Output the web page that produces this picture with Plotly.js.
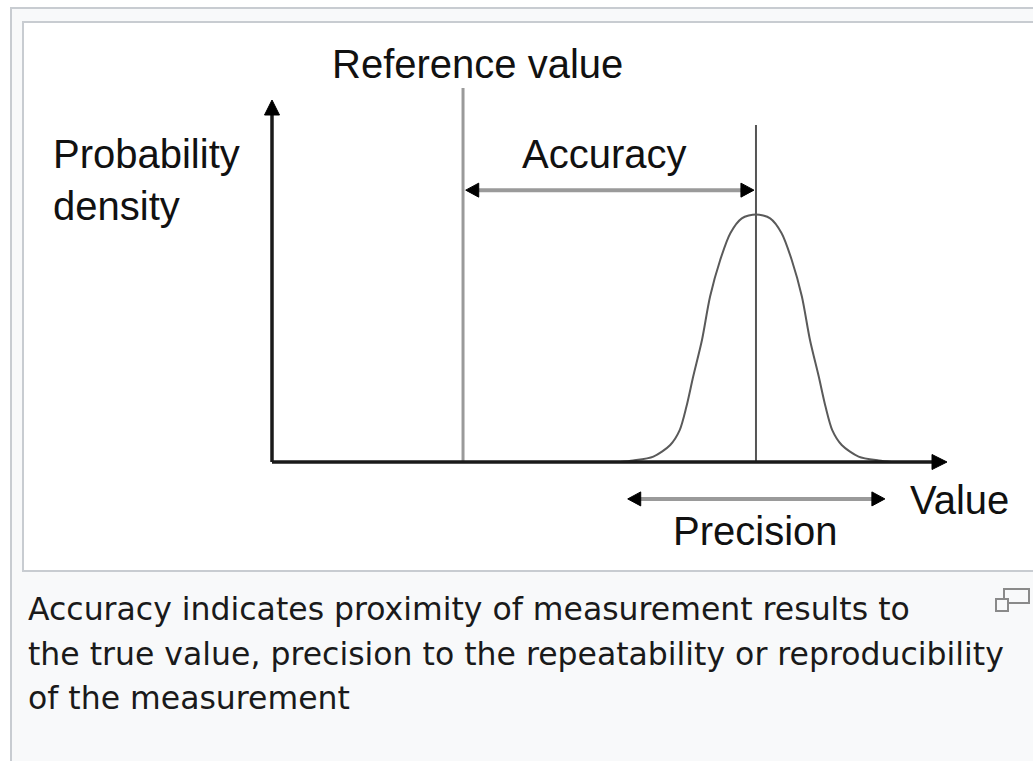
<!DOCTYPE html>
<html>
<head>
<meta charset="utf-8">
<script src="https://cdn.plot.ly/plotly-3.0.1.min.js"></script>
<style>
html,body{margin:0;padding:0;background:#ffffff;}
#chart{width:1033px;height:761px;}
</style>
</head>
<body>
<div id="chart"></div>
<script>
// ---------- data (value units, density units) ----------
const valueAxisMax = 100;
const densityAxisMax = 100;
const referenceValue = 28.3;
const referenceLineTop = 103.3;
const measuredMean = 71.7;
const meanLineTop = 93.1;
const accuracyLevel = 75.1;
const precisionLevel = -10.2;
const precisionRange = [52.7, 90.8];
const curveX = [51.6, 53.5, 56.5, 59.0, 60.4, 61.4, 62.4, 63.7, 64.9, 66.4, 67.9, 69.6, 71.7,
                73.8, 75.5, 77.0, 78.5, 79.7, 81.0, 82.0, 83.0, 84.4, 86.9, 89.9, 91.8];
const curveY = [0, 0.4, 1.5, 4.7, 8.8, 15.3, 23.6, 33.7, 45.7, 55.8, 63.2, 67.3, 68.4,
                67.3, 63.2, 55.8, 45.7, 33.7, 23.6, 15.3, 8.8, 4.7, 1.5, 0.4, 0];
const labels = {
  reference: 'Reference value',
  yTitle: 'Probability<br>density',
  accuracy: 'Accuracy',
  xTitle: 'Value',
  precision: 'Precision',
  caption: ['Accuracy indicates proximity of measurement results to',
            'the true value, precision to the repeatability or reproducibility',
            'of the measurement']
};

// ---------- layout geometry ----------
const W = 1033, H = 761;
const ORIGIN_X = 272, ORIGIN_Y = 462;
const PXX = 6.75, PXY = 3.62;
const xRange = [-ORIGIN_X / PXX, (W - ORIGIN_X) / PXX];
const yRange = [-(H - ORIGIN_Y) / PXY, ORIGIN_Y / PXY];
const px = x => x / W;
const py = y => 1 - y / H;

function head(tx, ty, dir, len, half) {
  const lx = len / PXX, ly = len / PXY, hx = half / PXX, hy = half / PXY;
  if (dir === 'right') return {x: [tx, tx - lx, tx - lx, tx], y: [ty, ty + hy, ty - hy, ty]};
  if (dir === 'left') return {x: [tx, tx + lx, tx + lx, tx], y: [ty, ty + hy, ty - hy, ty]};
  return {x: [tx, tx - hx, tx + hx, tx], y: [ty, ty - ly, ty - ly, ty]};
}
function lineTrace(x, y, color, width) {
  return {type: 'scatter', mode: 'lines', x: x, y: y, line: {color: color, width: width},
          hoverinfo: 'skip', showlegend: false};
}
function headTrace(h, color) {
  return {type: 'scatter', mode: 'lines', x: h.x, y: h.y, fill: 'toself', fillcolor: color,
          line: {color: color, width: 1}, hoverinfo: 'skip', showlegend: false};
}

const AX_LEN = 15, AX_HALF = 7.5, AR_LEN = 13, AR_HALF = 7;
const traces = [];
// reference value line
traces.push(lineTrace([referenceValue, referenceValue], [0, referenceLineTop], '#9a9a9a', 3));
// measured mean line
traces.push(lineTrace([measuredMean, measuredMean], [0, meanLineTop], '#555555', 2));
// probability density curve
traces.push({type: 'scatter', mode: 'lines', x: curveX, y: curveY,
             line: {color: '#5a5a5a', width: 2, shape: 'spline', smoothing: 0.8},
             hoverinfo: 'skip', showlegend: false});
// axes
traces.push(lineTrace([0, valueAxisMax - AX_LEN / PXX * 0.6], [0, 0], '#1a1a1a', 3.5));
traces.push(lineTrace([0, 0], [0, densityAxisMax - AX_LEN / PXY * 0.6], '#1a1a1a', 3.5));
traces.push(headTrace(head(valueAxisMax, 0, 'right', AX_LEN, AX_HALF), '#000000'));
traces.push(headTrace(head(0, densityAxisMax, 'up', AX_LEN, AX_HALF), '#000000'));
// accuracy arrow
traces.push(lineTrace([referenceValue + AR_LEN / PXX * 0.5, measuredMean - AR_LEN / PXX * 0.5],
                      [accuracyLevel, accuracyLevel], '#9a9a9a', 4));
traces.push(headTrace(head(referenceValue + 0.4, accuracyLevel, 'left', AR_LEN, AR_HALF), '#000000'));
traces.push(headTrace(head(measuredMean - 0.3, accuracyLevel, 'right', AR_LEN, AR_HALF), '#000000'));
// precision arrow
traces.push(lineTrace([precisionRange[0] + AR_LEN / PXX * 0.5, precisionRange[1] - AR_LEN / PXX * 0.5],
                      [precisionLevel, precisionLevel], '#9a9a9a', 4));
traces.push(headTrace(head(precisionRange[0], precisionLevel, 'left', AR_LEN, AR_HALF), '#000000'));
traces.push(headTrace(head(precisionRange[1], precisionLevel, 'right', AR_LEN, AR_HALF), '#000000'));

const bigFont = {family: 'Liberation Sans, Arial, sans-serif', size: 40, color: '#111111'};
const capFont = {family: 'DejaVu Sans, Verdana, sans-serif', size: 31.5, color: '#1a1a1a'};
function txt(text, x, y, font, xanchor) {
  return {text: text, xref: 'paper', yref: 'paper', x: px(x), y: py(y), xanchor: xanchor || 'left',
          yanchor: 'middle', showarrow: false, font: font, align: 'left'};
}
const annotations = [
  txt(labels.reference, 330, 64, bigFont),
  txt(labels.yTitle, 51, 180, bigFont),
  txt(labels.accuracy, 520, 154, bigFont),
  txt(labels.xTitle, 908, 500, bigFont),
  txt(labels.precision, 671, 531, bigFont)
];
labels.caption.forEach((line, i) => annotations.push(txt(line, 26, 609 + i * 44.5, capFont)));

const shapes = [
  {type: 'rect', xref: 'paper', yref: 'paper', x0: px(11), x1: px(1045), y0: py(8), y1: py(790),
   fillcolor: '#f8f9fa', line: {color: '#c8ccd1', width: 2}, layer: 'below'},
  {type: 'rect', xref: 'paper', yref: 'paper', x0: px(23), x1: px(1045), y0: py(22), y1: py(571),
   fillcolor: '#ffffff', line: {color: '#c8ccd1', width: 2}, layer: 'below'},
  // enlarge icon
  {type: 'rect', xref: 'paper', yref: 'paper', x0: px(1004), x1: px(1029), y0: py(589), y1: py(603),
   fillcolor: 'rgba(0,0,0,0)', line: {color: '#8a8a8a', width: 2}, layer: 'above'},
  {type: 'rect', xref: 'paper', yref: 'paper', x0: px(996), x1: px(1008), y0: py(599), y1: py(611),
   fillcolor: '#f8f9fa', line: {color: '#8a8a8a', width: 2}, layer: 'above'}
];

const layout = {
  width: W, height: H, autosize: false,
  margin: {l: 0, r: 0, t: 0, b: 0, pad: 0},
  paper_bgcolor: '#ffffff', plot_bgcolor: 'rgba(0,0,0,0)',
  xaxis: {range: xRange, visible: false, fixedrange: true},
  yaxis: {range: yRange, visible: false, fixedrange: true},
  showlegend: false,
  shapes: shapes,
  annotations: annotations
};
Plotly.newPlot('chart', traces, layout, {staticPlot: true, displayModeBar: false});
</script>
</body>
</html>
